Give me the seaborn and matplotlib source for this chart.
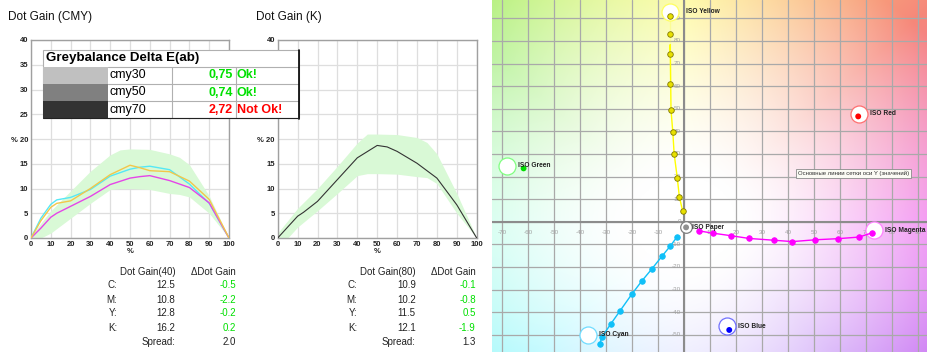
import numpy as np
import pandas as pd
import seaborn as sns
import matplotlib.pyplot as plt
from matplotlib.patches import Rectangle

sns.set_theme(style="white")
plt.rcParams["font.family"] = ["Liberation Sans", "DejaVu Sans"]

# Dot gain curves (tone value % -> dot gain %)
tone = [0, 5, 10, 13, 20, 30, 40, 50, 55, 60, 70, 80, 90, 100]
gain_c = [0, 4.0, 6.8, 7.7, 8.2, 9.8, 12.5, 13.9, 14.3, 14.5, 13.8, 10.9, 7.0, 0]
gain_m = [0, 2.0, 4.2, 5.0, 6.4, 8.4, 10.8, 12.1, 12.4, 12.6, 11.6, 10.2, 7.1, 0]
gain_y = [0, 3.5, 6.2, 7.0, 7.5, 10.0, 12.8, 14.7, 14.2, 13.6, 13.4, 11.5, 7.8, 0]
gain_k = [0, 2.2, 4.4, 5.2, 7.4, 11.8, 16.2, 18.7, 18.4, 17.5, 15.1, 12.1, 6.7, 0]

# Tolerance bands
band_tone = [0, 5, 10, 20, 30, 40, 45, 50, 60, 70, 75, 80, 90, 100]
cmy_hi = [0.5, 3.0, 5.5, 9.5, 13.5, 16.8, 17.8, 18.0, 17.9, 17.0, 16.3, 14.8, 8.5, 0]
cmy_lo = [0, 0, 1.0, 4.0, 7.0, 9.8, 10.0, 10.0, 9.8, 9.0, 8.8, 8.3, 5.0, 0]
k_hi = [1.0, 3.5, 6.0, 10.0, 14.5, 19.2, 21.0, 21.0, 20.9, 20.3, 19.3, 17.0, 9.0, 0]
k_lo = [0, 0, 2.2, 5.5, 9.0, 12.6, 13.0, 13.0, 12.9, 12.4, 12.2, 11.0, 5.0, 0]

# Summary tables
channels = ["C:", "M:", "Y:", "K:"]
gain40 = [12.5, 10.8, 12.8, 16.2]
delta40 = [-0.5, -2.2, -0.2, 0.2]
spread40 = 2.0
gain80 = [10.9, 10.2, 11.5, 12.1]
delta80 = [-0.1, -0.8, 0.5, -1.9]
spread80 = 1.3

# Greybalance
grey_names = ["cmy30", "cmy50", "cmy70"]
grey_de = [0.75, 0.74, 2.72]
grey_swatch = ["#c0c0c0", "#808080", "#333333"]

# a*b* plane
yellow_a = [-0.5, -1.8, -2.6, -3.8, -4.3, -5.0, -5.3, -5.4, -5.3, -5.3]
yellow_b = [4.6, 11.1, 19.5, 30.1, 39.6, 49.4, 60.9, 74.2, 83.2, 91.0]
magenta_a = [5.9, 11.3, 18.1, 25.0, 34.6, 41.7, 50.4, 59.3, 67.3, 72.4]
magenta_b = [-4.1, -5.1, -6.2, -7.4, -8.2, -8.8, -8.0, -7.5, -6.8, -4.9]
cyan_a = [-2.6, -5.3, -8.5, -12.3, -16.2, -20.1, -24.7, -28.2, -31.5, -32.4]
cyan_b = [-6.6, -10.8, -15.3, -20.8, -26.2, -32.1, -39.6, -45.3, -50.9, -54.1]

iso_names = ["ISO Paper", "ISO Yellow", "ISO Red", "ISO Magenta", "ISO Blue", "ISO Cyan", "ISO Green"]
iso_a = [0.8, -5.3, 67.4, 73.2, 16.4, -36.8, -68.0]
iso_b = [-2.5, 93.0, 47.8, -3.7, -46.2, -50.1, 24.8]
iso_edge = ["#808080", "#ffff60", "#ff7070", "#ff80ff", "#7070ff", "#70dcff", "#80ff80"]
solid_names = ["Paper", "Red", "Blue", "Green"]
solid_a = [0.8, 67.0, 17.4, -61.7]
solid_b = [-2.5, 46.6, -47.9, 23.6]
solid_col = ["#909090", "#ff0000", "#0000ff", "#00dd00"]

fig = plt.figure(figsize=(9.27, 3.52), dpi=100)
W, H = 927, 352


def px_axes(x0, y0, x1, y1):
    return fig.add_axes([x0 / W, 1 - y1 / H, (x1 - x0) / W, (y1 - y0) / H])


def style_dot_axes(ax):
    ax.set_xlim(0, 100)
    ax.set_ylim(0, 40)
    ax.set_xticks(range(0, 101, 10))
    ax.set_yticks(range(0, 41, 5))
    ax.set_yticklabels([("%% %d" % v) if v == 20 else str(v) for v in range(0, 41, 5)])
    ax.grid(True, color="#dedede", lw=0.9)
    ax.set_axisbelow(True)
    for s in ax.spines.values():
        s.set_color("#a0a0a0")
        s.set_linewidth(1.0)
    ax.tick_params(length=0, pad=2, labelsize=5.5, labelcolor="#222222")
    for lab in ax.get_xticklabels() + ax.get_yticklabels():
        lab.set_fontweight("bold")
    ax.set_xlabel("%", fontsize=5.5, fontweight="bold", labelpad=0.5, color="#222222")
    ax.set_ylabel("")


cmy = pd.DataFrame({"tone": tone * 3,
                    "gain": gain_c + gain_m + gain_y,
                    "ink": ["C"] * len(tone) + ["M"] * len(tone) + ["Y"] * len(tone)})

ax1 = px_axes(31, 40, 229, 238)
ax1.fill_between(band_tone, cmy_lo, cmy_hi, color="#d9f9d6", lw=0, zorder=1)
sns.lineplot(data=cmy, x="tone", y="gain", hue="ink",
             palette={"C": "#55e8f5", "M": "#e545e8", "Y": "#f2c74a"},
             lw=1.0, legend=False, ax=ax1, zorder=3)
style_dot_axes(ax1)

ax2 = px_axes(277.7, 40, 476.7, 238)
ax2.fill_between(band_tone, k_lo, k_hi, color="#d9f9d6", lw=0, zorder=1)
sns.lineplot(x=tone, y=gain_k, color="#333333", lw=0.8, ax=ax2, zorder=3)
style_dot_axes(ax2)

fig.text(8 / W, 1 - 17 / H, "Dot Gain (CMY)", fontsize=8.5, va="center", color="#111111")
fig.text(256 / W, 1 - 17 / H, "Dot Gain (K)", fontsize=8.5, va="center", color="#111111")

# a*b* plane with a colour-wheel background
ax3 = px_axes(492, 0, 927, 352)
xl, yl = (-73.85, 93.46), (-57.65, 98.1)
aa, bb = np.meshgrid(np.linspace(xl[0], xl[1], 340), np.linspace(yl[0], yl[1], 300))
hue = np.degrees(np.arctan2(bb, aa)) % 360
chroma = np.hypot(aa, bb)
anchors = [0, 45, 90, 135, 180, 225, 270, 315, 360]
anchor_rgb = np.array([
    [0.92, 0.30, 0.92],
    [0.96, 0.48, 0.42],
    [1.00, 0.98, 0.45],
    [0.62, 0.93, 0.45],
    [0.60, 1.00, 0.85],
    [0.45, 0.96, 1.00],
    [0.72, 0.72, 1.00],
    [0.68, 0.38, 0.95],
    [0.92, 0.30, 0.92],
])
rgb = np.stack([np.interp(hue, anchors, anchor_rgb[:, k]) for k in range(3)], -1)
t = (np.clip((chroma - 20) / 105, 0, 1) ** 1.4 * 0.9)[..., None]
img = 1 - t * (1 - rgb)
ax3.imshow(img, extent=(xl[0], xl[1], yl[0], yl[1]), origin="lower", aspect="auto", zorder=0)
ax3.set_xlim(*xl)
ax3.set_ylim(*yl)
xt = list(range(-70, 91, 10))
yt = list(range(-50, 91, 10))
ax3.set_xticks(xt)
ax3.set_yticks(yt)
ax3.grid(True, color="#a9a9a9", lw=0.9)
ax3.tick_params(length=0, labelbottom=False, labelleft=False)
for s in ax3.spines.values():
    s.set_visible(False)
ax3.axhline(0, color="#8c8c8c", lw=1.5, zorder=1)
ax3.axvline(0, color="#8c8c8c", lw=1.5, zorder=1)
for v in xt:
    if v != 0:
        ax3.text(v, -4.9, str(v), fontsize=4.5, color="#a0a0a0", ha="center", va="center", zorder=1.5)
for v in yt:
    ax3.text(-1.2, v, str(v), fontsize=4.5, color="#a0a0a0", ha="right", va="center", zorder=1.5)

for name, a, b, ec in zip(iso_names, iso_a, iso_b, iso_edge):
    size = 70 if name == "ISO Paper" else 150
    sns.scatterplot(x=[a], y=[b], color="white", edgecolor=ec, linewidth=0.9, s=size, ax=ax3, zorder=2.5)
    off = 4.5 if name == "ISO Paper" else (11.5 if name == "ISO Yellow" else 8)
    ax3.annotate(name, (a, b), xytext=(off, 0), textcoords="offset points",
                 fontsize=4.8, fontweight="bold", color="#222222", ha="left", va="center", zorder=7)

for xs, ys, lc, fc, ec in [(yellow_a, yellow_b, "#ffff00", "#e8e000", "#807800"),
                           (magenta_a, magenta_b, "#ff00ff", "#ff00ff", "#ff00ff"),
                           (cyan_a, cyan_b, "#10c0f8", "#10c0f8", "#10c0f8")]:
    sns.lineplot(x=xs, y=ys, sort=False, color=lc, lw=1.0, ax=ax3, zorder=3)
    sns.scatterplot(x=xs, y=ys, color=fc, edgecolor=ec, linewidth=0.6, s=16, ax=ax3, zorder=4)

sns.scatterplot(x=solid_a, y=solid_b, hue=solid_names, palette=dict(zip(solid_names, solid_col)),
                s=18, linewidth=0, legend=False, ax=ax3, zorder=6)
ax3.text(43.8, 21.3, "Основные линии сетки оси Y (значений)", fontsize=4.3, color="#333333",
         ha="left", va="center", zorder=8,
         bbox=dict(boxstyle="square,pad=0.35", fc="#fbfbf4", ec="#8a8a8a", lw=0.6))

# overlay in pixel coordinates for the tables
ov = fig.add_axes([0, 0, 1, 1])
ov.set_xlim(0, W)
ov.set_ylim(H, 0)
ov.axis("off")

narrow = ["Liberation Sans Narrow", "Liberation Sans", "DejaVu Sans"]
ov.add_patch(Rectangle((43.3, 50), 256, 68.3, fc="white", ec="#b0b0b0", lw=0.8))
ov.text(46.5, 58.5, "Greybalance Delta E(ab)", fontsize=9.6, fontweight="bold", family=narrow,
        ha="left", va="center", color="black")
row_h = 17.2
for i, (nm, de, sw) in enumerate(zip(grey_names, grey_de, grey_swatch)):
    y0 = 66.7 + i * row_h
    ov.add_patch(Rectangle((43.3, y0), 64.7, row_h, fc=sw, ec="none"))
    ov.plot([108, 299.3], [y0, y0], color="#b0b0b0", lw=0.8)
    for xv in [171.7, 235.7]:
        ov.plot([xv, xv], [y0, y0 + row_h], color="#b0b0b0", lw=0.8)
    ok = de < 1.0
    col = "#00e000" if ok else "#ff0000"
    ov.text(110, y0 + row_h / 2, nm, fontsize=9, family=narrow, ha="left", va="center", color="black")
    ov.text(233, y0 + row_h / 2, ("%.2f" % de).replace(".", ","), fontsize=9, fontweight="bold",
            family=narrow, ha="right", va="center", color=col)
    ov.text(237, y0 + row_h / 2, "Ok!" if ok else "Not Ok!", fontsize=9, fontweight="bold",
            family=narrow, ha="left", va="center", color=col)
ov.plot([299.3, 299.3], [49.5, 118.5], color="black", lw=1.2)
ov.plot([43.3, 299.3], [118.3, 118.3], color="#222222", lw=0.8)


def summary(xl_, xv, xd, header, gains, deltas, spread):
    rows = [271.7, 285.5, 299.7, 313.5, 327.7, 341.7]
    ov.text(xv, rows[0], header, fontsize=7, ha="right", va="center", color="#222222")
    ov.text(xd, rows[0], "\u0394Dot Gain", fontsize=7, ha="right", va="center", color="#222222")
    for k, (ch, g, d) in enumerate(zip(channels, gains, deltas)):
        y = rows[k + 1]
        ov.text(xl_, y, ch, fontsize=7, ha="right", va="center", color="#222222")
        ov.text(xv, y, "%.1f" % g, fontsize=7, ha="right", va="center", color="#222222")
        ov.text(xd, y, "%.1f" % d, fontsize=7, ha="right", va="center", color="#00e000")
    ov.text(xv, rows[5], "Spread:", fontsize=7, ha="right", va="center", color="#222222")
    ov.text(xd, rows[5], "%.1f" % spread, fontsize=7, ha="right", va="center", color="#222222")


summary(117, 175.3, 235.7, "Dot Gain(40)", gain40, delta40, spread40)
summary(357, 415.7, 475.7, "Dot Gain(80)", gain80, delta80, spread80)

fig.savefig("out.png", dpi=100)
